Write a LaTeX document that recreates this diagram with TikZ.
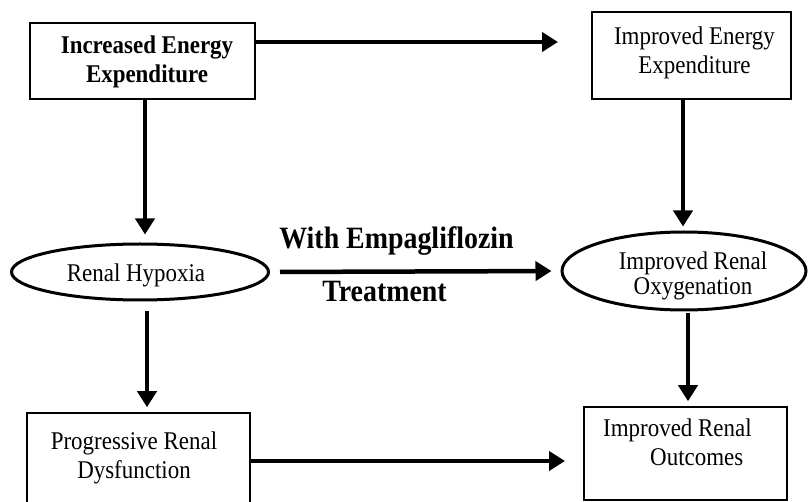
\documentclass[tikz,border=0pt]{standalone}
\usepackage{fontspec}
\setmainfont{Liberation Serif}[FakeStretch=0.9]
\usetikzlibrary{arrows.meta,shapes.geometric}
\begin{document}
\begin{tikzpicture}[x=1pt,y=-1pt,
  boxshape/.style={draw,line width=1.6pt,rectangle,inner sep=0pt},
  ovalshape/.style={draw,line width=3pt,ellipse,inner sep=0pt},
  lbl/.style={inner sep=0pt,align=center,font=\fontsize{25.5}{29}\selectfont},
  midlbl/.style={inner sep=0pt,font=\fontsize{31}{34}\selectfont\bfseries,anchor=base},
  arr/.style={line width=4.5pt,-{Triangle[length=16pt,width=19pt]}}]
\useasboundingbox (0,0) rectangle (808,502);
% shapes
\node[boxshape,minimum width=225pt,minimum height=76pt] (b1) at (142.5,61) {};
\node[boxshape,minimum width=199pt,minimum height=87pt] (b2) at (691.5,55.5) {};
\node[ovalshape,minimum width=257pt,minimum height=56pt] (e1) at (140,272) {};
\node[ovalshape,minimum width=244pt,minimum height=78pt] (e2) at (684,271) {};
\node[boxshape,minimum width=223pt,minimum height=97pt] (b3) at (138.5,461.5) {};
\node[boxshape,minimum width=203pt,minimum height=93pt] (b4) at (685.5,453.5) {};
% texts
\node[lbl,font=\fontsize{25.5}{29}\selectfont\bfseries] (t1) at (147,62) {Increased Energy\\Expenditure};
\node[lbl] (t2) at (694.5,52.5) {Improved Energy\\Expenditure};
\node[lbl,anchor=base] (t3) at (136,282) {Renal Hypoxia};
\node[lbl,font=\fontsize{25.5}{24.5}\selectfont] (t4) at (693,276) {Improved Renal\\Oxygenation};
\node[lbl] (t5) at (134,457.5) {Progressive Renal\\Dysfunction};
\node[lbl,align=left,anchor=west] (t6) at (603,442) {Improved Renal\\\hspace*{47pt}Outcomes};
\node[midlbl] (m1) at (396.5,249) {With Empagliflozin};
\node[midlbl] (m2) at (384.5,302) {Treatment};
% free ends
\coordinate (c1) at (558,42);
\coordinate (c7) at (565,461);
% connectors
\draw[arr] (b1.east |- c1) -- (c1);
\draw[arr,shorten >=8pt] (b1.south -| 145,0) -- (e1.north -| 145,0);
\draw[arr,shorten >=4pt] (b2.south -| 683,0) -- (e2.north -| 683,0);
\draw[arr,shorten <=10pt,shorten >=9pt] (e1.east) -- (e2.west);
\draw[arr,shorten <=10pt,shorten >=5pt] (e1.south -| 147,0) -- (b3.north -| 147,0);
\draw[arr,shorten <=2pt,shorten >=5pt] (e2.south -| 688,0) -- (b4.north -| 688,0);
\draw[arr] (b3.east |- c7) -- (c7);
\end{tikzpicture}
\end{document}
